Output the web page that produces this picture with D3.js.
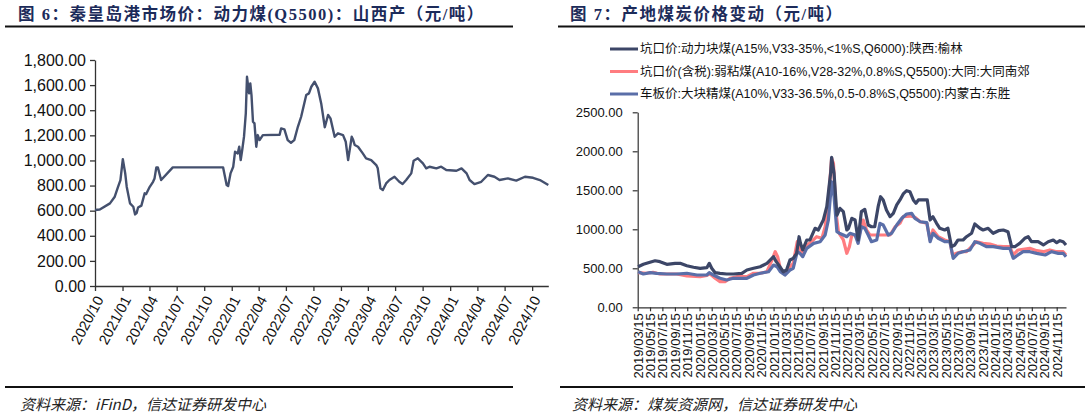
<!DOCTYPE html>
<html><head><meta charset="utf-8">
<script src="https://cdn.jsdelivr.net/npm/d3@7"></script>
<style>body{margin:0;background:#fff}svg{display:block}</style>
</head><body>
<svg id="c" width="1088" height="417"></svg>
<script>
// ---------- Left chart data: 秦皇岛港市场价 动力煤(Q5500) 山西产 ----------
const leftDates = ["2020-10-01","2020-10-17","2020-11-20","2020-12-06","2020-12-17","2020-12-25","2021-01-02","2021-01-10","2021-01-15","2021-01-26","2021-02-06","2021-02-12","2021-02-17","2021-02-22","2021-03-05","2021-03-16","2021-03-21","2021-04-02","2021-04-13","2021-04-18","2021-04-24","2021-04-29","2021-05-10","2021-06-18","2021-12-03","2021-12-15","2021-12-20","2021-12-28","2022-01-06","2022-01-12","2022-01-21","2022-01-26","2022-01-31","2022-02-05","2022-02-11","2022-02-17","2022-02-21","2022-02-25","2022-02-28","2022-03-04","2022-03-08","2022-03-13","2022-03-18","2022-03-24","2022-03-29","2022-04-04","2022-04-15","2022-06-10","2022-06-15","2022-06-26","2022-07-07","2022-07-18","2022-07-29","2022-08-10","2022-08-21","2022-09-07","2022-09-16","2022-09-24","2022-10-05","2022-10-16","2022-10-27","2022-11-08","2022-11-19","2022-11-27","2022-12-11","2022-12-22","2023-01-08","2023-01-17","2023-01-25","2023-02-06","2023-02-11","2023-02-16","2023-02-27","2023-03-15","2023-03-26","2023-04-12","2023-04-29","2023-05-04","2023-05-13","2023-05-21","2023-06-01","2023-06-12","2023-06-29","2023-07-15","2023-07-26","2023-08-07","2023-08-24","2023-09-01","2023-09-15","2023-10-02","2023-10-13","2023-10-24","2023-11-16","2023-12-02","2023-12-19","2024-01-22","2024-02-08","2024-02-25","2024-03-06","2024-03-22","2024-04-14","2024-05-06","2024-05-28","2024-06-14","2024-07-12","2024-08-09","2024-09-07","2024-10-04","2024-10-27","2024-11-24"];
const leftValues = [605,609,658,711,790,844,1010,897,791,658,631,570,580,625,640,738,732,790,830,857,945,945,844,945,945,804,796,897,950,1069,1056,1109,1003,1083,1189,1375,1666,1587,1534,1614,1521,1308,1295,1109,1202,1162,1202,1205,1255,1248,1162,1141,1162,1268,1348,1521,1534,1587,1627,1574,1454,1264,1362,1335,1189,1216,1202,1149,1003,1189,1162,1123,1109,1056,1017,1003,963,937,778,764,817,844,870,830,812,844,897,998,1017,977,937,950,937,950,924,918,937,897,844,812,830,884,870,844,857,839,870,862,844,804];
const leftXTicks = ["2020/10","2021/01","2021/04","2021/07","2021/10","2022/01","2022/04","2022/07","2022/10","2023/01","2023/04","2023/07","2023/10","2024/01","2024/04","2024/07","2024/10"];
const leftYTicks = [0,200,400,600,800,1000,1200,1400,1600,1800];

// ---------- Right chart data: 产地煤炭价格变动 ----------
const rightNames = ["坑口价:动力块煤(A15%,V33-35%,<1%S,Q6000):陕西:榆林","坑口价(含税):弱粘煤(A10-16%,V28-32%,0.8%S,Q5500):大同:大同南郊","车板价:大块精煤(A10%,V33-36.5%,0.5-0.8%S,Q5500):内蒙古:东胜"];
const yulinDates = ["2019-03-17","2019-04-12","2019-05-23","2019-06-09","2019-07-03","2019-08-06","2019-09-16","2019-10-11","2019-11-13","2019-12-16","2020-01-18","2020-02-20","2020-03-03","2020-03-15","2020-04-01","2020-04-25","2020-05-28","2020-06-30","2020-08-11","2020-09-05","2020-10-08","2020-11-10","2020-12-13","2021-01-15","2021-01-28","2021-02-09","2021-03-04","2021-03-20","2021-04-06","2021-04-22","2021-05-09","2021-05-21","2021-05-28","2021-06-08","2021-06-28","2021-07-14","2021-08-08","2021-08-24","2021-09-18","2021-10-05","2021-10-24","2021-10-29","2021-11-10","2021-11-24","2021-12-09","2021-12-26","2022-01-12","2022-01-20","2022-02-06","2022-02-22","2022-03-09","2022-03-25","2022-04-11","2022-04-28","2022-05-14","2022-05-30","2022-06-16","2022-06-28","2022-07-11","2022-07-27","2022-08-14","2022-08-30","2022-09-16","2022-10-02","2022-10-18","2022-11-04","2022-11-20","2022-12-07","2022-12-20","2023-01-01","2023-01-25","2023-02-14","2023-02-28","2023-03-14","2023-04-01","2023-04-17","2023-05-11","2023-05-27","2023-06-14","2023-06-30","2023-07-16","2023-08-10","2023-08-27","2023-09-21","2023-10-07","2023-11-01","2023-11-17","2023-12-12","2024-01-06","2024-02-01","2024-02-25","2024-03-19","2024-04-06","2024-04-22","2024-05-16","2024-06-10","2024-06-27","2024-07-13","2024-08-15","2024-09-10","2024-10-04","2024-10-29","2024-11-15","2024-12-01","2024-12-17","2024-12-31"];
const yulinValues = [520,551,585,597,585,551,564,564,533,513,500,508,564,500,444,436,427,427,436,478,500,520,564,649,585,542,456,478,606,628,692,905,820,735,863,863,1013,991,1119,1290,1718,1923,1718,1180,1269,1226,991,1010,1141,1119,863,1226,1256,1055,1033,1033,1290,1418,1376,1247,1162,1205,1312,1376,1453,1495,1482,1376,1333,1376,1376,1376,1119,1162,1077,1013,991,1013,777,799,863,863,905,949,1068,1013,991,1013,949,982,991,969,777,777,820,885,905,841,841,799,841,863,828,854,841,799];
const datongDates = ["2019-03-17","2019-04-28","2019-05-30","2019-07-03","2019-09-24","2019-11-13","2020-01-18","2020-02-20","2020-03-07","2020-04-01","2020-04-25","2020-05-20","2020-06-14","2020-07-17","2020-09-05","2020-10-08","2020-11-10","2020-12-13","2021-01-07","2021-01-23","2021-02-04","2021-02-17","2021-03-12","2021-04-06","2021-04-22","2021-05-12","2021-05-21","2021-06-03","2021-06-28","2021-07-22","2021-08-16","2021-09-11","2021-09-27","2021-10-13","2021-10-29","2021-11-07","2021-11-20","2021-12-02","2021-12-26","2022-01-12","2022-01-25","2022-02-06","2022-02-22","2022-03-09","2022-03-25","2022-04-03","2022-04-20","2022-05-06","2022-06-09","2022-07-11","2022-08-14","2022-09-08","2022-10-02","2022-10-18","2022-11-20","2022-12-15","2023-01-10","2023-02-12","2023-02-28","2023-03-14","2023-04-09","2023-05-11","2023-06-06","2023-06-19","2023-07-08","2023-08-03","2023-08-27","2023-09-21","2023-10-16","2023-11-17","2023-12-21","2024-01-23","2024-02-25","2024-03-28","2024-04-14","2024-05-08","2024-06-02","2024-07-05","2024-08-08","2024-09-10","2024-10-12","2024-11-15","2024-12-17","2024-12-31"];
const datongValues = [444,436,449,427,427,401,392,410,427,372,328,328,372,392,392,436,436,456,606,713,649,500,436,520,564,841,777,671,799,841,905,885,1033,1376,1910,1846,1205,960,863,692,777,927,927,863,1033,1119,991,927,927,927,927,1033,1077,1162,1170,1154,1097,1077,863,991,905,863,841,671,692,713,713,777,841,820,811,786,777,777,671,735,744,756,726,713,735,713,713,671];
const dongshengDates = ["2019-03-17","2019-04-12","2019-05-15","2019-06-17","2019-08-06","2019-09-24","2019-11-13","2020-01-02","2020-02-20","2020-03-03","2020-03-23","2020-04-25","2020-05-28","2020-06-30","2020-09-05","2020-10-08","2020-11-10","2020-12-21","2021-01-15","2021-02-01","2021-02-17","2021-03-12","2021-04-06","2021-04-22","2021-05-12","2021-05-25","2021-06-08","2021-06-28","2021-08-01","2021-09-02","2021-09-27","2021-10-13","2021-10-29","2021-11-10","2021-11-24","2021-12-06","2021-12-26","2022-01-12","2022-01-28","2022-02-22","2022-03-09","2022-03-25","2022-04-11","2022-04-28","2022-05-14","2022-06-09","2022-06-25","2022-07-11","2022-08-05","2022-08-22","2022-09-16","2022-10-11","2022-11-04","2022-11-29","2022-12-15","2023-01-10","2023-02-12","2023-02-28","2023-03-14","2023-04-09","2023-05-11","2023-06-06","2023-06-22","2023-07-16","2023-08-10","2023-09-13","2023-10-07","2023-11-01","2023-12-05","2024-01-06","2024-02-25","2024-03-28","2024-04-14","2024-05-08","2024-06-02","2024-07-05","2024-08-08","2024-09-19","2024-10-21","2024-11-23","2024-12-17","2024-12-31"];
const dongshengValues = [456,427,444,436,427,427,436,414,414,444,414,372,350,372,372,414,436,456,542,520,456,414,478,500,713,692,649,756,820,841,927,1119,1610,1418,969,950,927,905,949,927,820,1033,1013,927,841,863,1077,1055,927,949,1055,1141,1196,1205,1141,1097,1085,841,949,885,841,841,628,692,713,735,841,820,777,777,756,756,628,671,713,713,692,671,713,692,692,649];
const rightXTicks = ["2019/03/15","2019/05/15","2019/07/15","2019/09/15","2019/11/15","2020/01/15","2020/03/15","2020/05/15","2020/07/15","2020/09/15","2020/11/15","2021/01/15","2021/03/15","2021/05/15","2021/07/15","2021/09/15","2021/11/15","2022/01/15","2022/03/15","2022/05/15","2022/07/15","2022/09/15","2022/11/15","2023/01/15","2023/03/15","2023/05/15","2023/07/15","2023/09/15","2023/11/15","2024/01/15","2024/03/15","2024/05/15","2024/07/15","2024/09/15","2024/11/15"];
const rightYTicks = [0,500,1000,1500,2000,2500];

// ---------- Text ----------
const leftTitle = "图 6：秦皇岛港市场价：动力煤(Q5500)：山西产（元/吨）";
const rightTitle = "图 7：产地煤炭价格变动（元/吨）";
const leftSource = "资料来源：iFinD，信达证券研发中心";
const rightSource = "资料来源：煤炭资源网，信达证券研发中心";

// ---------- Drawing ----------
const svg = d3.select("#c");
const pDay = d3.timeParse("%Y-%m-%d");
const pSlash = d3.timeParse("%Y/%m");
const pSlash3 = d3.timeParse("%Y/%m/%d");
const titleFont = "'Liberation Serif','Noto Sans CJK SC',serif";
const sansFont = "'Liberation Sans','Noto Sans CJK SC',sans-serif";
const cjkFont = "'Noto Sans CJK SC','Liberation Sans',sans-serif";
const titleColor = "#1c2b5a";

function header(x0, x1, title, tx) {
  svg.append("text").attr("x", tx).attr("y", 20).text(title)
    .attr("font-family", titleFont).attr("font-weight", "bold")
    .attr("font-size", 16.5).attr("letter-spacing", 1.5).attr("fill", titleColor);
  svg.append("line").attr("x1", x0).attr("x2", x1).attr("y1", 26.5).attr("y2", 26.5)
    .attr("stroke", "#111").attr("stroke-width", 2);
}
function footer(x0, x1, text, tx) {
  svg.append("line").attr("x1", x0).attr("x2", x1).attr("y1", 387).attr("y2", 387)
    .attr("stroke", "#111").attr("stroke-width", 2);
  svg.append("text").attr("x", tx).attr("y", 410).text(text)
    .attr("font-family", cjkFont).attr("font-style", "italic")
    .attr("font-size", 15).attr("fill", "#222");
}

// Left chart
header(5, 513, leftTitle, 18);
footer(5, 513, leftSource, 20);
{
  const x = d3.scaleTime().domain([pDay("2020-10-01"), pDay("2024-11-24")]).range([95, 548.3]);
  const y = d3.scaleLinear().domain([0, 1800]).range([286, 60]);
  const data = leftDates.map((d, i) => ({d: pDay(d), v: leftValues[i]}));
  const ya = svg.append("g").attr("transform", "translate(95,0)")
    .call(d3.axisLeft(y).tickValues(leftYTicks).tickFormat(d3.format(",.2f")).tickSize(5).tickSizeOuter(0));
  ya.select(".domain").attr("stroke", "#333").attr("stroke-width", 1.3);
  ya.selectAll(".tick line").attr("stroke", "#333").attr("stroke-width", 1.3);
  ya.selectAll("text").attr("font-family", sansFont).attr("font-size", 16).attr("fill", "#111").attr("dx", -1);
  const xa = svg.append("g").attr("transform", "translate(0,286)")
    .call(d3.axisBottom(x).tickValues(leftXTicks.map(pSlash)).tickFormat(d3.timeFormat("%Y/%m")).tickSize(5).tickSizeOuter(0));
  xa.select(".domain").attr("stroke", "#333").attr("stroke-width", 1.3);
  xa.selectAll(".tick line").attr("stroke", "#333").attr("stroke-width", 1.3);
  xa.selectAll("text").attr("font-family", sansFont).attr("font-size", 14.5).attr("fill", "#111")
    .attr("text-anchor", "end").attr("dy", "0.35em")
    .attr("transform", "translate(4,11) rotate(-62)").attr("y", 0).attr("x", 0);
  svg.append("path").datum(data)
    .attr("d", d3.line().x(p => x(p.d)).y(p => y(p.v)))
    .attr("fill", "none").attr("stroke", "#44506e").attr("stroke-width", 2.4).attr("stroke-linejoin", "round");
}

// Right chart
header(558, 1085, rightTitle, 570);
footer(560, 1085, rightSource, 572);
{
  const x = d3.scaleTime().domain([pDay("2019-03-15"), pDay("2024-12-31")]).range([637.7, 1066]);
  const y = d3.scaleLinear().domain([0, 2500]).range([307.3, 112.3]);
  const ya = svg.append("g").attr("transform", "translate(637.7,0)")
    .call(d3.axisLeft(y).tickValues(rightYTicks).tickFormat(d3.format(".2f")).tickSize(5).tickSizeOuter(0).tickPadding(10));
  ya.select(".domain").attr("stroke", "#333").attr("stroke-width", 1.2);
  ya.selectAll(".tick line").attr("stroke", "#333").attr("stroke-width", 1.2);
  ya.selectAll("text").attr("font-family", sansFont).attr("font-size", 13).attr("fill", "#111");
  const xa = svg.append("g").attr("transform", "translate(0,307.3)")
    .call(d3.axisBottom(x).tickValues(rightXTicks.map(pSlash3)).tickFormat(d3.timeFormat("%Y/%m/%d")).tickSize(4).tickSizeOuter(0));
  xa.select(".domain").attr("stroke", "#333").attr("stroke-width", 1.2);
  xa.selectAll(".tick line").attr("stroke", "#333").attr("stroke-width", 1.2);
  xa.selectAll("text").attr("font-family", sansFont).attr("font-size", 13).attr("fill", "#111")
    .attr("text-anchor", "end").attr("dy", "0.35em")
    .attr("transform", "translate(0,6) rotate(-90)").attr("y", 0).attr("x", 0);
  const series = [
    {dates: datongDates, values: datongValues, color: "#ff7c80"},
    {dates: dongshengDates, values: dongshengValues, color: "#5a6ea8"},
    {dates: yulinDates, values: yulinValues, color: "#3c4667"}
  ];
  const line = d3.line().x(p => x(p.d)).y(p => y(p.v));
  series.forEach(s => {
    const data = s.dates.map((d, i) => ({d: pDay(d), v: s.values[i]}));
    svg.append("path").datum(data).attr("d", line)
      .attr("fill", "none").attr("stroke", s.color).attr("stroke-width", 3.2).attr("stroke-linejoin", "round");
  });
  // legend
  const legendItems = [
    {name: rightNames[0], color: "#3c4667"},
    {name: rightNames[1], color: "#ff7c80"},
    {name: rightNames[2], color: "#5a6ea8"}
  ];
  const lg = svg.append("g");
  legendItems.forEach((it, i) => {
    const ly = 49 + i * 22.5;
    lg.append("line").attr("x1", 610).attr("x2", 638).attr("y1", ly).attr("y2", ly)
      .attr("stroke", it.color).attr("stroke-width", 3);
    lg.append("text").attr("x", 640).attr("y", ly).attr("dy", "0.35em").text(it.name)
      .attr("font-family", sansFont).attr("font-size", 12.5).attr("fill", "#111");
  });
}
</script>
</body></html>
